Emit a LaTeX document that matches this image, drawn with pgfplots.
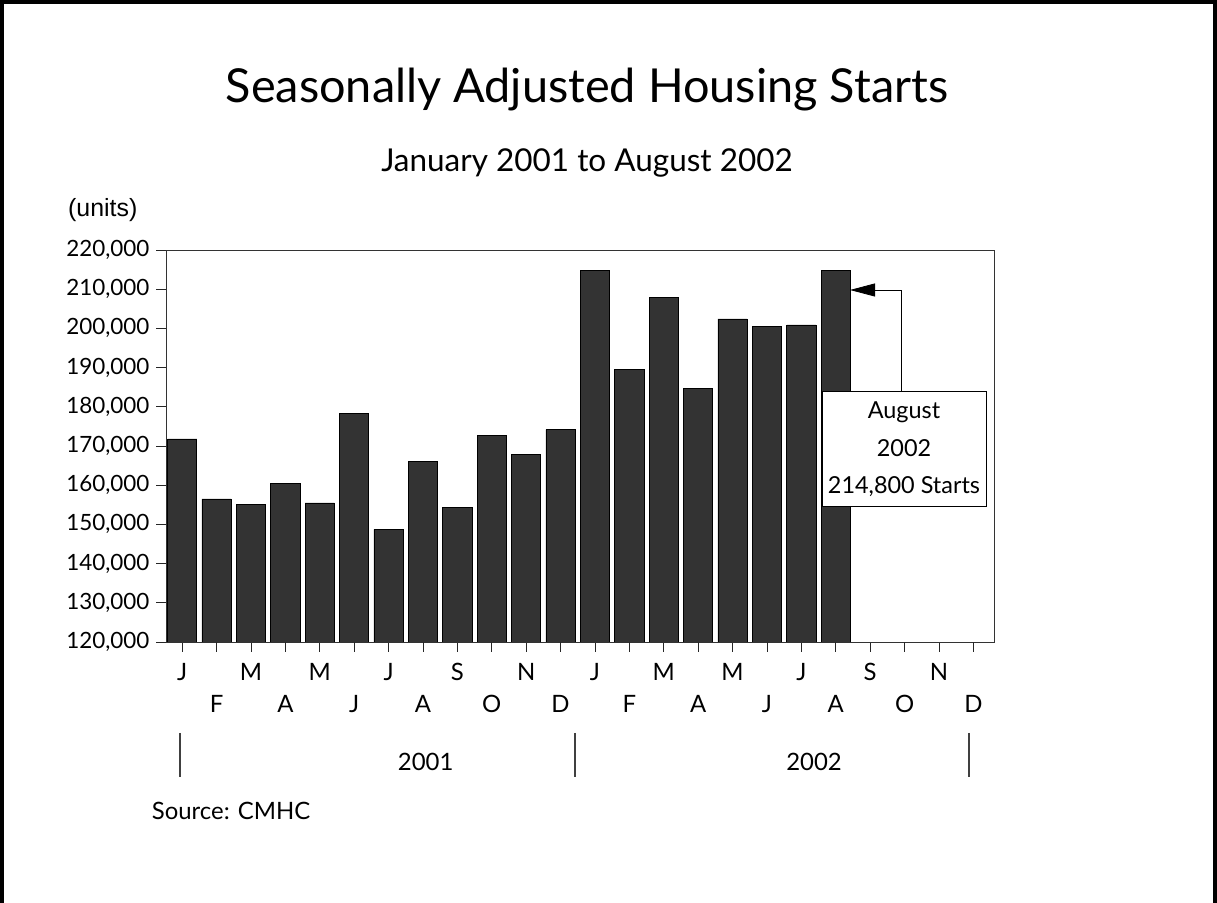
\documentclass[border=0pt]{standalone}
\usepackage{fontspec}
\setmainfont{Lato}
\newfontfamily\arialfont{Liberation Sans}
\usepackage{pgfplots}
\usepackage{pgfplotstable}
\pgfplotsset{compat=1.18}
\usetikzlibrary{arrows.meta}
\definecolor{barfill}{HTML}{333333}

\pgfplotstableread{
idx value
0 171800
1 156500
2 155100
3 160500
4 155500
5 178400
6 148700
7 166000
8 154300
9 172800
10 167800
11 174200
12 214700
13 189600
14 207900
15 184600
16 202400
17 200500
18 200900
19 214800
}\starts

\begin{document}
\begin{tikzpicture}[x=1bp,y=1bp]
\begin{axis}[
  at={(166bp,261bp)}, anchor=south west,
  scale only axis, width=828bp, height=392bp,
  xmin=-0.47, xmax=23.6, ymin=120000, ymax=220000,
  scaled y ticks=false,
  axis line style={black!80, line width=0.8bp},
  tick pos=left, tick align=outside, major tick length=10bp,
  tick style={black!85, line width=0.8bp},
  ytick={120000,130000,...,220000},
  yticklabels={{120,000},{130,000},{140,000},{150,000},{160,000},{170,000},{180,000},{190,000},{200,000},{210,000},{220,000}},
  yticklabel style={font=\fontsize{22.5}{22.5}\selectfont, text=black, xshift=-3bp},
  xtick={0,2,...,22},
  xticklabels={J,M,M,J,S,N,J,M,M,J,S,N},
  extra x ticks={1,3,...,23},
  extra x tick labels={F,A,J,A,O,D,F,A,J,A,O,D},
  extra x tick style={grid=none, xticklabel style={yshift=-32bp}},
  xticklabel style={font=\fontsize{24}{24}\selectfont, text=black, anchor=north, inner sep=0pt, text height=17bp, text depth=0pt, yshift=-11bp},
]
\addplot[ybar, bar width=0.85, fill=barfill, draw=black, line width=0.6bp] table[x=idx, y=value]{\starts};
\end{axis}

% frame
\draw[line width=4bp] (2,-20) -- (2,901) -- (1215,901) -- (1215,-20);

% titles
\node[anchor=base, inner sep=0pt, font=\fontsize{47}{47}\selectfont] at (587,800) {Seasonally Adjusted Housing Starts};
\node[anchor=base, inner sep=0pt, font=\fontsize{31.6}{31.6}\selectfont] at (587,731) {January 2001 to August 2002};
\node[anchor=base west, inner sep=0pt, font=\arialfont\fontsize{25}{25}\selectfont] at (68,686) {(units)};

% years
\draw[black!75, line width=1.2bp] (180,170) -- (180,126);
\draw[black!75, line width=1.2bp] (575,170) -- (575,126);
\draw[black!75, line width=1.2bp] (969,170) -- (969,126);
\node[anchor=base, inner sep=0pt, font=\fontsize{24}{24}\selectfont] at (425.7,132.3) {2001};
\node[anchor=base, inner sep=0pt, font=\fontsize{24}{24}\selectfont] at (814,132.3) {2002};
\node[anchor=base west, inner sep=0pt, font=\fontsize{24}{24}\selectfont] at (151.7,83.7) {Source: CMHC};

% annotation
\draw[line width=0.8bp, -{Triangle[length=25bp,width=13bp]}] (901.7,511.3) -- (901.7,613) -- (850,613);
\draw[fill=white, line width=0.8bp] (822.7,397) rectangle (986,511.3);
\node[anchor=base, inner sep=0pt, font=\fontsize{23.5}{23.5}\selectfont] at (904,484.7) {August};
\node[anchor=base, inner sep=0pt, font=\fontsize{23.5}{23.5}\selectfont] at (904,446.3) {2002};
\node[anchor=base, inner sep=0pt, font=\fontsize{23.5}{23.5}\selectfont] at (904,409.7) {214,800 Starts};

\pgfresetboundingbox
\useasboundingbox (0,0) rectangle (1217,903);
\end{tikzpicture}
\end{document}
